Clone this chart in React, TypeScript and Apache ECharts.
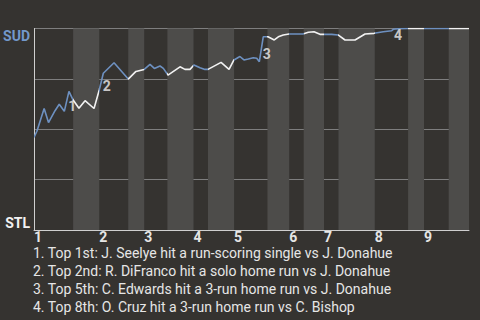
import React, { useEffect, useRef } from 'react';
import * as echarts from 'echarts';

// Teams: top of chart = visitor (SUD), bottom = home (STL)
const teamTop = 'SUD';
const teamBottom = 'STL';
const innings = ['1', '2', '3', '4', '5', '6', '7', '8', '9'];

// Half-inning boundaries on the x scale (pitch count), top/bottom alternating
const halfInningBounds = [0, 27, 45, 65, 76, 92, 110, 120, 138, 161, 176, 186, 200, 210, 235, 258, 269, 286, 300];

// Win probability for SUD (%) after each plate appearance, at pitch count
const pitchIndex = [
  0, 2, 7, 10, 14.5, 17.4, 20.9, 24.1, 27, 31, 35.2, 41.4, 45, 47.8, 55.2, 65, 70.3, 76, 80, 83,
  86.9, 89.2, 92.4, 100.7, 104.1, 107.6, 110.3, 114.5, 117.9, 120, 129, 134.5, 137.9, 142, 144.8, 147.8, 151.2, 153.6, 155.4, 158.1,
  161.4, 165.7, 168.5, 171.9, 175.9, 185.5, 189.2, 193.1, 197.2, 200, 205.3, 209.7, 214.5, 221.4, 228.3, 234.5, 240.9, 246.7, 247.8, 251.2,
  258, 300,
];
const sudWinPct = [
  46, 49, 60.3, 53.3, 59.2, 62.4, 58.9, 68.8, 64.5, 60.4, 64.2, 60.3, 69.5, 77.8, 83.0, 74.9, 78.7, 79.7, 82.2, 80.2,
  81.4, 80.2, 76.9, 81.0, 79.7, 79.7, 81.9, 80.5, 79.7, 79.7, 83.2, 79.7, 84.4, 86.1, 84.4, 84.9, 85.5, 85.2, 83.5, 95.9,
  95.9, 94.3, 95.9, 96.8, 97.3, 97.3, 98.1, 98.4, 97.1, 97.1, 97.1, 96.8, 94.3, 94.3, 97.3, 97.6, 98.4, 98.9, 99.6, 99.9,
  100, 100,
];

// Index of the plate appearance that ends each key event
const keyEventPoints = [7, 13, 39, 58];
const keyEventNotes = [
  '1. Top 1st: J. Seelye hit a run-scoring single vs J. Donahue',
  '2. Top 2nd: R. DiFranco hit a solo home run vs J. Donahue',
  '3. Top 5th: C. Edwards hit a 3-run home run vs J. Donahue',
  '4. Top 8th: O. Cruz hit a 3-run home run vs C. Bishop',
];

const BG = '#353330';
const BAND = '#4d4c4a';
const GRID = '#7e7e7e';
const AXIS = '#cfcfcf';
const BLUE = '#6d90c0';
const WHITE = '#f2f2f2';
const FONT = 'Roboto';

export default function App() {
  const ref = useRef<HTMLDivElement>(null);
  useEffect(() => {
    if (!ref.current) return;
    const chart = echarts.init(ref.current, undefined, { renderer: 'svg' });
    const lineData = pitchIndex.map((x, i) => [x, sudWinPct[i]]);
    const markerData = keyEventPoints.map((k, i) => ({
      name: String(i + 1),
      value: [(pitchIndex[k - 1] + pitchIndex[k]) / 2, (sudWinPct[k - 1] + sudWinPct[k]) / 2],
    }));
    const last = halfInningBounds[halfInningBounds.length - 1];
    const bands = halfInningBounds.slice(0, -1).map((s, i) => [
      { xAxis: s, itemStyle: { color: i % 2 ? BAND : 'rgba(0,0,0,0)' } },
      { xAxis: halfInningBounds[i + 1] },
    ]);
    const pieces = halfInningBounds.slice(0, -1).map((s, i) => ({
      gte: s,
      lt: i === halfInningBounds.length - 2 ? last + 1 : halfInningBounds[i + 1],
      color: i % 2 ? WHITE : BLUE,
    }));
    const inningStarts = halfInningBounds.filter((_, i) => i % 2 === 0 && i < halfInningBounds.length - 1);

    chart.setOption({
      animation: false,
      backgroundColor: BG,
      title: {
        text: keyEventNotes.join('\n'),
        left: 33,
        top: 244,
        padding: 0,
        textStyle: { color: '#e6e6e6', fontSize: 14, fontWeight: 'normal', lineHeight: 18, fontFamily: FONT },
      },
      grid: { left: 34, right: 11, top: 28.5, bottom: 90, containLabel: false },
      xAxis: {
        type: 'value',
        min: 0,
        max: last,
        axisLine: { show: true, lineStyle: { color: AXIS, width: 1 } },
        axisTick: { show: false },
        splitLine: { show: false },
        axisLabel: {
          customValues: inningStarts,
          formatter: (v: number) => {
            const idx = inningStarts.indexOf(v);
            return idx >= 0 ? innings[idx] : '';
          },
          align: 'left',
          color: '#e6e6e6',
          fontWeight: 'bold',
          fontSize: 14,
          lineHeight: 12,
          margin: 1,
          fontFamily: FONT,
        },
      },
      yAxis: [
        {
          type: 'value',
          min: 0,
          max: 100,
          interval: 25,
          axisLine: { show: true, lineStyle: { color: AXIS, width: 1 } },
          axisTick: { show: false },
          splitLine: { show: true, lineStyle: { color: GRID, width: 1 } },
          axisLabel: {
            formatter: (v: number) => (v === 100 ? teamTop : ''),
            verticalAlign: 'top',
            color: '#7398cb',
            fontWeight: 'bold',
            fontSize: 14,
            margin: 4,
            fontFamily: FONT,
          },
        },
        {
          type: 'value',
          min: 0,
          max: 100,
          interval: 25,
          position: 'left',
          axisLine: { show: false },
          axisTick: { show: false },
          splitLine: { show: false },
          axisLabel: {
            formatter: (v: number) => (v === 0 ? teamBottom : ''),
            verticalAlign: 'bottom',
            color: '#f2f2f2',
            fontWeight: 'bold',
            fontSize: 14,
            margin: 4,
            fontFamily: FONT,
          },
        },
      ],
      visualMap: {
        show: false,
        type: 'piecewise',
        dimension: 0,
        seriesIndex: 0,
        pieces,
      },
      series: [
        {
          type: 'line',
          data: lineData,
          showSymbol: false,
          symbol: 'none',
          lineStyle: { width: 1.6 },
          z: 3,
          markArea: { silent: true, data: bands, z: 1 },
        },
        {
          type: 'scatter',
          data: markerData,
          symbolSize: 1,
          itemStyle: { color: 'rgba(0,0,0,0)' },
          z: 4,
          label: {
            show: true,
            formatter: (p: any) => p.name,
            position: [2, -2],
            align: 'left',
            verticalAlign: 'top',
            color: '#f0f0f0',
            fontWeight: 'bold',
            fontSize: 14,
            fontFamily: FONT,
          },
        },
      ],
    });
    return () => chart.dispose();
  }, []);
  return (
    <div
      ref={ref}
      style={{ position: 'fixed', left: 0, top: 0, width: 480, height: 320, background: BG }}
    />
  );
}
